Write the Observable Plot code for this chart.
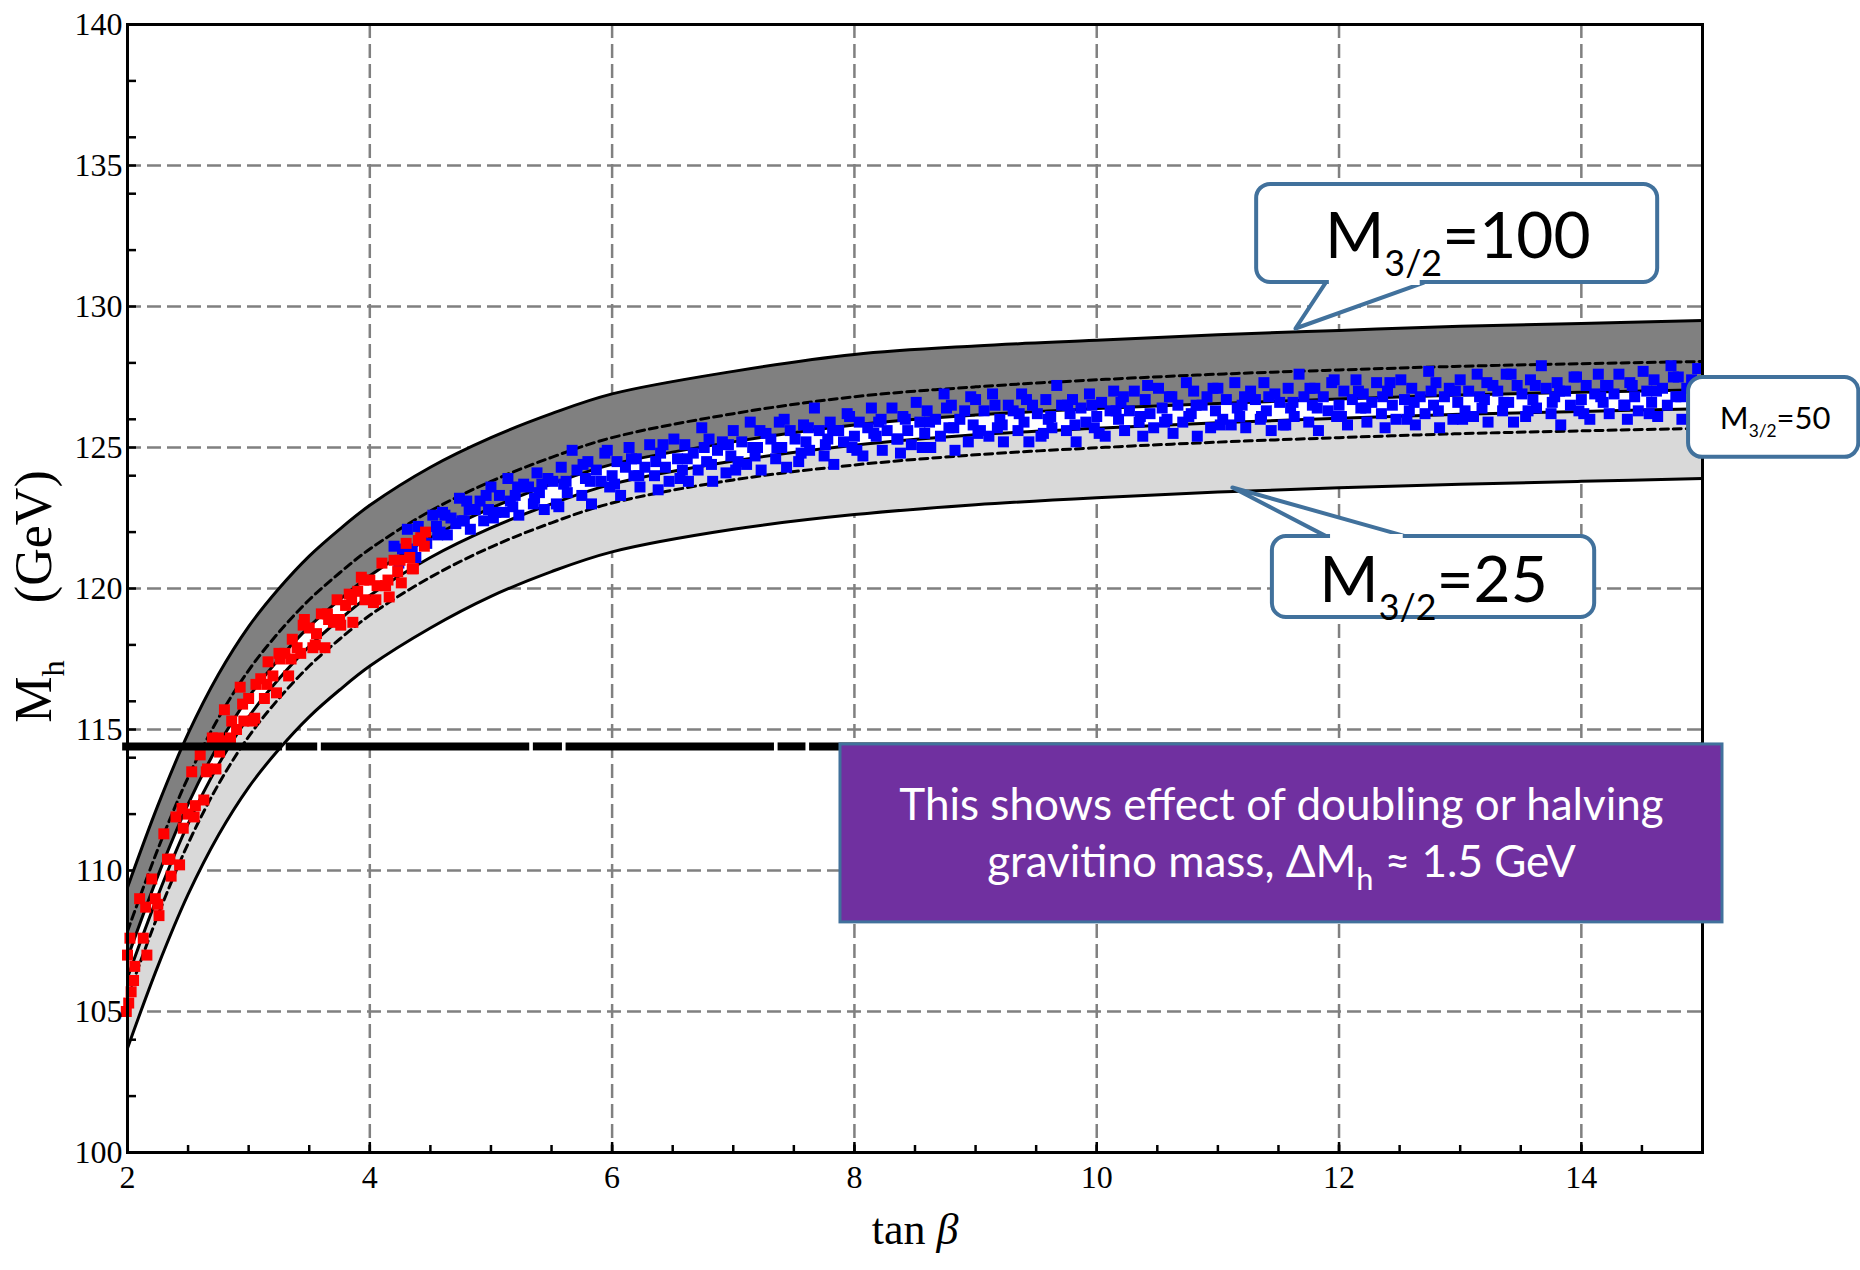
<!DOCTYPE html>
<html><head><meta charset="utf-8">
<script src="https://cdn.jsdelivr.net/npm/d3@7"></script>
<script src="https://cdn.jsdelivr.net/npm/@observablehq/plot@0.6"></script>
<style>html,body{margin:0;padding:0;background:#fff;} #chart svg{display:block}</style>
</head><body><div id="chart"></div>
<script>
// ---- data ----
const tanBeta   = [2, 2.25, 2.5, 2.75, 3, 3.25, 3.5, 3.75, 4, 4.5, 5, 5.5, 6, 7, 8, 9, 10, 11, 12, 13, 14, 15];
const mUpper100 = [109.4, 112.3, 114.85, 116.95, 118.65, 120.0, 121.15, 122.1, 122.95, 124.3, 125.35, 126.2, 126.9, 127.7, 128.3, 128.6, 128.8, 129.0, 129.15, 129.3, 129.4, 129.5];
const mLower100 = [107.85, 110.75, 113.3, 115.4, 117.1, 118.45, 119.6, 120.55, 121.4, 122.75, 123.8, 124.65, 125.35, 126.2, 126.8, 127.15, 127.4, 127.6, 127.75, 127.88, 127.97, 128.05];
const mUpper50  = [106.9, 109.8, 112.35, 114.45, 116.15, 117.5, 118.65, 119.6, 120.45, 121.8, 122.85, 123.7, 124.4, 125.2, 125.8, 126.15, 126.38, 126.56, 126.72, 126.86, 126.96, 127.05];
const mLower50  = [106.2, 109.1, 111.65, 113.75, 115.45, 116.8, 117.95, 118.9, 119.75, 121.1, 122.15, 123.0, 123.7, 124.52, 125.08, 125.45, 125.68, 125.88, 126.04, 126.18, 126.28, 126.37];
const mUpper25  = [105.5, 108.4, 110.95, 113.05, 114.75, 116.1, 117.25, 118.2, 119.05, 120.4, 121.47, 122.33, 123.03, 123.85, 124.38, 124.74, 124.99, 125.19, 125.35, 125.49, 125.59, 125.68];
const mLower25  = [103.7, 106.6, 109.15, 111.25, 112.95, 114.3, 115.45, 116.4, 117.25, 118.6, 119.72, 120.6, 121.3, 122.1, 122.62, 122.97, 123.22, 123.42, 123.57, 123.7, 123.8, 123.9];

const redPoints = [[2.00,107.0],[2.01,105.3],[2.02,107.6],[2.03,105.7],[2.06,106.6],[1.99,105.0],[2.05,106.1],
[2.10,109.0],[2.13,107.6],[2.16,107.0],[2.15,108.7],[2.20,109.7],[2.23,109.0],[2.26,108.4],[2.25,108.8],
[2.30,111.3],[2.33,110.4],[2.36,109.8],[2.35,110.4],[2.40,111.9],[2.43,110.2],[2.46,111.5],[2.45,112.2],
[2.50,112.0],[2.53,113.5],[2.56,112.3],[2.55,111.9],[2.60,114.1],[2.63,112.5],[2.66,113.6],[2.65,113.5],
[2.70,114.7],[2.73,113.6],[2.76,114.2],[2.75,114.7],[2.80,115.7],[2.83,114.6],[2.86,115.3],[2.85,114.7],
[2.90,115.0],[2.93,116.5],[2.96,115.3],[2.95,115.9],[3.00,116.1],[3.03,115.3],[3.06,116.6],[3.05,115.4],
[3.10,116.8],[3.13,116.1],[3.16,117.4],[3.15,116.6],[3.20,116.9],[3.23,116.3],[3.26,117.5],[3.25,117.7],
[3.30,117.7],[3.33,116.9],[3.36,118.2],[3.35,117.5],[3.40,117.9],[3.43,117.7],[3.46,118.9],[3.45,118.7],
[3.50,118.6],[3.53,117.9],[3.56,118.4],[3.55,118.0],[3.60,119.1],[3.63,117.9],[3.66,118.9],[3.65,119.1],
[3.70,118.8],[3.73,119.6],[3.76,118.7],[3.75,118.9],[3.80,119.4],[3.83,119.8],[3.86,118.8],[3.85,119.6],
[3.90,119.9],[3.93,120.4],[3.96,119.6],[3.95,120.3],[4.00,120.3],[4.03,119.5],[4.06,120.1],[4.05,119.6],
[4.10,120.9],[4.13,120.1],[4.16,119.7],[4.15,120.3],[4.20,121.0],[4.23,120.6],[4.26,120.2],[4.25,121.0],
[4.30,121.6],[4.33,121.1],[4.36,120.7],[4.35,120.7],[4.40,121.7],[4.42,121.8],[4.46,122.0],[4.45,121.5]];

const bluePoints = [[4.20,121.5],[4.24,120.9],[4.27,121.4],[4.31,122.1],[4.35,121.4],[4.38,121.1],
[4.40,122.2],[4.43,121.9],[4.47,121.6],[4.52,122.6],[4.55,122.2],[4.58,122.0],
[4.60,122.7],[4.64,121.9],[4.67,122.5],[4.71,122.3],[4.74,123.2],[4.78,122.4],
[4.80,123.1],[4.83,122.1],[4.87,122.8],[4.91,123.1],[4.94,122.4],[4.98,122.8],
[5.00,123.6],[5.04,122.7],[5.07,123.3],[5.11,122.7],[5.14,123.9],[5.18,122.9],
[5.20,123.3],[5.23,122.6],[5.27,123.7],[5.31,123.6],[5.35,123.0],[5.38,124.1],
[5.40,123.4],[5.44,122.8],[5.47,123.9],[5.51,123.8],[5.54,123.0],[5.58,124.3],
[5.60,123.7],[5.63,123.4],[5.67,124.9],[5.71,124.2],[5.75,123.3],[5.78,123.9],
[5.80,124.5],[5.83,123.0],[5.87,124.2],[5.91,123.8],[5.94,124.8],[5.98,123.6],
[6.00,124.0],[6.04,124.5],[6.07,123.3],[6.11,124.3],[6.14,125.0],[6.18,124.0],
[6.20,124.6],[6.23,123.6],[6.27,124.3],[6.31,125.1],[6.35,124.0],[6.38,123.5],
[6.40,124.8],[6.44,124.3],[6.47,123.8],[6.51,125.3],[6.54,124.6],[6.58,124.2],
[6.60,125.1],[6.63,123.8],[6.67,124.8],[6.71,124.2],[6.74,125.7],[6.78,124.5],
[6.80,125.3],[6.83,123.8],[6.87,124.9],[6.91,125.2],[6.94,124.1],[6.98,124.7],
[7.00,125.6],[7.04,124.5],[7.07,125.2],[7.11,124.4],[7.14,125.9],[7.18,124.7],
[7.20,125.0],[7.23,124.2],[7.27,125.5],[7.31,125.3],[7.35,124.6],[7.38,125.9],
[7.40,125.0],[7.44,124.3],[7.47,125.6],[7.51,125.3],[7.54,124.5],[7.58,125.8],
[7.60,125.2],[7.63,124.9],[7.67,126.4],[7.71,125.6],[7.75,124.7],[7.78,125.3],
[7.80,125.9],[7.83,124.4],[7.87,125.6],[7.91,125.2],[7.94,126.2],[7.98,125.0],
[8.00,125.4],[8.04,125.9],[8.07,124.7],[8.11,125.7],[8.14,126.4],[8.18,125.4],
[8.20,125.9],[8.23,124.9],[8.27,125.6],[8.31,126.4],[8.35,125.3],[8.38,124.8],
[8.40,126.1],[8.44,125.6],[8.47,125.1],[8.51,126.6],[8.54,125.9],[8.58,125.5],
[8.60,126.3],[8.63,125.0],[8.67,126.0],[8.71,125.4],[8.74,126.9],[8.78,125.7],
[8.80,126.5],[8.83,124.9],[8.87,126.0],[8.91,126.3],[8.94,125.2],[8.98,125.8],
[9.00,126.7],[9.04,125.6],[9.07,126.3],[9.11,125.4],[9.14,126.9],[9.18,125.7],
[9.20,126.0],[9.23,125.2],[9.27,126.5],[9.31,126.3],[9.35,125.6],[9.38,126.9],
[9.40,125.9],[9.44,125.2],[9.47,126.5],[9.51,126.2],[9.54,125.4],[9.58,126.7],
[9.60,126.0],[9.63,125.7],[9.67,127.2],[9.71,126.5],[9.75,125.6],[9.78,126.2],
[9.80,126.7],[9.83,125.2],[9.87,126.4],[9.91,125.9],[9.94,126.9],[9.98,125.7],
[10.00,126.1],[10.04,126.6],[10.07,125.4],[10.11,126.3],[10.14,127.0],[10.18,126.0],
[10.20,126.6],[10.23,125.6],[10.27,126.3],[10.31,127.0],[10.35,125.9],[10.38,125.4],
[10.40,126.7],[10.44,126.2],[10.47,125.7],[10.51,127.1],[10.54,126.4],[10.58,126.0],
[10.60,126.8],[10.63,125.5],[10.67,126.5],[10.71,125.9],[10.74,127.3],[10.78,126.2],
[10.80,127.0],[10.83,125.4],[10.87,126.5],[10.91,126.8],[10.94,125.7],[10.98,126.3],
[11.00,127.1],[11.04,126.0],[11.07,126.7],[11.11,125.8],[11.14,127.3],[11.18,126.1],
[11.20,126.5],[11.23,125.7],[11.27,127.0],[11.31,126.7],[11.35,126.0],[11.38,127.3],
[11.40,126.3],[11.44,125.6],[11.47,126.9],[11.51,126.6],[11.54,125.8],[11.58,127.1],
[11.60,126.4],[11.63,126.1],[11.67,127.6],[11.71,126.8],[11.75,125.9],[11.78,126.5],
[11.80,127.1],[11.83,125.6],[11.87,126.8],[11.91,126.3],[11.94,127.3],[11.98,126.1],
[12.00,126.5],[12.04,127.0],[12.07,125.8],[12.11,126.7],[12.14,127.4],[12.18,126.4],
[12.20,126.9],[12.23,125.9],[12.27,126.6],[12.31,127.3],[12.35,126.2],[12.38,125.7],
[12.40,127.0],[12.44,126.5],[12.47,126.0],[12.51,127.4],[12.54,126.7],[12.58,126.3],
[12.60,127.1],[12.63,125.8],[12.67,126.8],[12.71,126.2],[12.74,127.7],[12.78,126.5],
[12.80,127.3],[12.83,125.7],[12.87,126.8],[12.91,127.1],[12.94,126.0],[12.98,126.6],
[13.00,127.4],[13.04,126.3],[13.07,127.0],[13.11,126.1],[13.14,127.6],[13.18,126.4],
[13.20,126.7],[13.23,125.9],[13.27,127.2],[13.31,127.0],[13.35,126.3],[13.38,127.6],
[13.40,126.6],[13.44,125.9],[13.47,127.2],[13.51,126.9],[13.54,126.1],[13.58,127.4],
[13.60,126.7],[13.63,126.4],[13.67,127.9],[13.71,127.1],[13.75,126.2],[13.78,126.8],
[13.80,127.3],[13.83,125.8],[13.87,127.0],[13.91,126.5],[13.94,127.5],[13.98,126.3],
[14.00,126.7],[14.04,127.2],[14.07,126.0],[14.11,126.9],[14.14,127.6],[14.18,126.6],
[14.20,127.2],[14.23,126.2],[14.27,126.9],[14.31,127.6],[14.35,126.5],[14.38,126.0],
[14.40,127.3],[14.44,126.8],[14.47,126.3],[14.51,127.7],[14.54,127.0],[14.58,126.6],
[14.60,127.4],[14.63,126.1],[14.67,127.1],[14.71,126.5],[14.74,127.9],[14.78,126.8],
[14.80,127.5],[14.83,126.0],[14.87,127.1],[14.91,127.4],[14.94,126.3],[14.97,126.9],
[4.56,121.9],[4.62,122.6],[4.76,122.4],[4.82,122.8],[4.96,123.3],[5.02,122.5],[5.16,123.1],[5.22,123.6],
[5.36,123.2],[5.42,123.7],[5.56,122.9],[5.62,123.8],[5.76,124.4],[5.82,123.8],[5.96,124.9],[6.02,123.7],
[6.16,124.6],[6.22,124.0],[6.36,124.5],[6.42,125.1],[6.56,123.9],[6.62,124.6],[6.76,125.0],[6.82,124.4],
[6.96,125.1],[7.02,124.2],[7.16,125.0],[7.22,125.6],[7.36,125.0],[7.42,126.0],[7.56,124.8],[7.62,125.7],
[7.76,125.1],[7.82,125.6],[7.96,126.1],[8.02,124.9],[8.16,125.5],[8.22,126.0],[8.36,125.3],[8.42,126.0],
[8.56,125.0],[8.62,125.9],[8.76,126.4],[8.82,125.7],[8.96,126.8],[9.02,125.5],[9.16,126.5],[9.22,125.8],
[9.36,126.2],[9.42,126.7],[9.56,125.5],[9.62,126.1],[9.76,126.5],[9.82,125.8],[9.96,126.5],[10.02,125.5],
[10.16,126.3],[10.22,126.8],[10.36,126.1],[10.42,127.2],[10.56,125.9],[10.62,126.8],[10.76,126.1],[10.82,126.5],
[10.96,127.1],[11.02,125.8],[11.16,126.4],[11.22,126.8],[11.36,126.1],[11.42,126.8],[11.56,125.8],[11.62,126.6],
[11.76,127.1],[11.82,126.4],[11.96,127.4],[12.02,126.1],[12.16,127.0],[12.22,126.4],[12.36,126.8],[12.42,127.3],
[12.56,126.0],[12.62,126.6],[12.76,127.0],[12.82,126.3],[12.96,127.0],[13.02,126.0],[13.16,126.8],[13.22,127.3],
[13.36,126.6],[13.42,127.6],[13.56,126.3],[13.62,127.2],[13.76,126.6],[13.82,127.0],[13.96,127.5],[14.02,126.2],
[14.16,126.8],[14.22,127.2],[14.36,126.5],[14.42,127.2],[14.56,126.2],[14.62,127.0],[14.76,127.5],[14.82,126.8],
[14.96,127.8]];

const lepLimit = 114.4;
const lepSegments = [[1.96, 3.28], [3.31, 3.57], [3.60, 5.32], [5.35, 5.59], [5.62, 7.34], [7.37, 7.60], [7.63, 15]];

const xMajorTicks = [2, 4, 6, 8, 10, 12, 14];
const xMinorTicks = [2, 2.5, 3, 3.5, 4, 4.5, 5, 5.5, 6, 6.5, 7, 7.5, 8, 8.5, 9, 9.5, 10, 10.5, 11, 11.5, 12, 12.5, 13, 13.5, 14, 14.5, 15];
const yMajorTicks = [100, 105, 110, 115, 120, 125, 130, 135, 140];
const yMinorTicks = [102, 104, 105, 106, 108, 110, 112, 114, 115, 116, 118, 120, 122, 124, 125, 126, 128, 130, 132, 134, 135, 136, 138];
const xGrid = [4, 6, 8, 10, 12, 14];
const yGrid = [105, 110, 115, 120, 125, 130, 135];

const xTitle = "tan β";
const yTitle = "Mh (GeV)";
const calloutLabels = ["M3/2=100", "M3/2=50", "M3/2=25"];
const noteLines = ["This shows effect of doubling or halving", "gravitino mass, ΔMh ≈ 1.5 GeV"];

// ---- annotation geometry (in data units) ----
const calloutBoxes = [
  {x1: 11.32, x2: 14.63, y1: 130.85, y2: 134.33},
  {x1: 14.885, x2: 16.29, y1: 124.65, y2: 127.48},
  {x1: 11.45, x2: 14.11, y1: 118.97, y2: 121.84}
];
const bigLabels = [{x: 12.98, y: 132.43, label: calloutLabels[0]}, {x: 12.78, y: 120.23, label: calloutLabels[2]}];
const smallLabels = [{x: 15.60, y: 126.01, label: calloutLabels[1]}];
const tails = [
  {id: 0, t: 11.89, m: 130.85}, {id: 0, t: 11.64, m: 129.22}, {id: 0, t: 12.70, m: 130.85},
  {id: 2, t: 11.90, m: 121.84}, {id: 2, t: 11.12, m: 123.58}, {id: 2, t: 12.56, m: 121.84}
];
const tailCovers = [
  {x1: 11.92, x2: 12.67, y: 130.85},
  {x1: 11.93, x2: 12.53, y: 121.84}
];
const noteBox = {x1: 7.885, x2: 15.165, y1: 108.16, y2: 114.47};
const notePos = [{x: 11.525, y: 112.30}, {x: 11.525, y: 110.28}];

// ---- build ----
const bands = tanBeta.map((t, i) => ({
  t, a: mUpper100[i], b: mLower100[i], c: mUpper50[i], d: mLower50[i], e: mUpper25[i], f: mLower25[i]
}));
const curve = "catmull-rom";
const solid = {x: "t", stroke: "black", strokeWidth: 3, curve};
const dashed = {x: "t", stroke: "black", strokeWidth: 3, strokeDasharray: "8,5", curve};
const gridStyle = {stroke: "#808080", strokeOpacity: 1, strokeWidth: 2.5, strokeDasharray: "14,6"};
const boxBlue = "#41719C";
const sans = "Lato, 'Open Sans', sans-serif";
const serif = "'Liberation Serif', 'Times New Roman', serif";
const noLabel = () => "";

const chart = Plot.plot({
  width: 1860, height: 1270,
  marginLeft: 127, marginRight: 158, marginTop: 24, marginBottom: 118,
  x: {domain: [2, 15]},
  y: {domain: [100, 140]},
  style: {fontFamily: serif, fontSize: "32px", background: "white", overflow: "visible", color: "black"},
  marks: [
    Plot.gridX(xGrid, gridStyle),
    Plot.gridY(yGrid, gridStyle),
    Plot.axisX(xMinorTicks, {tickSize: -7, strokeWidth: 2.5, tickFormat: noLabel, label: null}),
    Plot.axisX(xMajorTicks, {tickSize: -10, strokeWidth: 2.5, tickFormat: noLabel, label: null}),
    Plot.axisY(yMinorTicks, {tickSize: -9, strokeWidth: 2.5, tickFormat: noLabel, label: null}),
    Plot.areaY(bands, {x: "t", y1: "a", y2: "c", fill: "#808080", curve}),
    Plot.areaY(bands, {x: "t", y1: "c", y2: "d", fill: "white", curve}),
    Plot.areaY(bands, {x: "t", y1: "d", y2: "f", fill: "#d9d9d9", curve}),
    Plot.line(bands, {...solid, y: "a"}),
    Plot.line(bands, {...dashed, y: "b"}),
    Plot.line(bands, {...solid, y: "c"}),
    Plot.line(bands, {...solid, y: "d"}),
    Plot.line(bands, {...dashed, y: "e"}),
    Plot.line(bands, {...solid, y: "f"}),
    Plot.dot(bluePoints, {x: d => d[0], y: d => d[1], symbol: "square", r: 6.2, fill: "#0000ff"}),
    Plot.dot(redPoints, {x: d => d[0], y: d => d[1], symbol: "square", r: 6.2, fill: "#ff0000"}),
    Plot.ruleY(lepSegments, {y: () => lepLimit, x1: d => d[0], x2: d => d[1], stroke: "black", strokeWidth: 8}),
    Plot.frame({stroke: "black", strokeWidth: 3}),
    Plot.axisX(xMajorTicks, {tickSize: 0, tickPadding: 13, fontSize: 32, fontFamily: serif, tickFormat: d => String(d), label: null}),
    Plot.axisY(yMajorTicks, {tickSize: 0, tickPadding: 5, fontSize: 32, fontFamily: serif, tickFormat: d => String(d), label: null}),
    Plot.text([xTitle], {text: d => d, frameAnchor: "bottom", dy: 91, fontSize: 44, fontFamily: serif, textAnchor: "middle"}),
    Plot.text([yTitle], {text: d => d, frameAnchor: "left", dx: -93, dy: 8, rotate: -90, fontSize: 52, fontFamily: serif, textAnchor: "middle"}),
    // callouts
    Plot.line(tails, {x: "t", y: "m", z: "id", fill: "white", stroke: boxBlue, strokeWidth: 4, strokeLinejoin: "round"}),
    Plot.rect(calloutBoxes, {x1: "x1", x2: "x2", y1: "y1", y2: "y2", fill: "white", stroke: boxBlue, strokeWidth: 4, rx: 14, ry: 14}),
    Plot.ruleY(tailCovers, {y: "y", x1: "x1", x2: "x2", stroke: "white", strokeWidth: 5}),
    Plot.text(bigLabels, {x: "x", y: "y", text: "label", fontSize: 64, fontFamily: sans, fill: "black"}),
    Plot.text(smallLabels, {x: "x", y: "y", text: "label", fontSize: 31, fontFamily: sans, fill: "black"}),
    // note box
    Plot.rect([noteBox], {x1: "x1", x2: "x2", y1: "y1", y2: "y2", fill: "#7030A0", stroke: boxBlue, strokeWidth: 3}),
    Plot.text(notePos, {x: "x", y: "y", text: (d, i) => noteLines[i], fontSize: 44, fontFamily: sans, fill: "white"})
  ]
});
document.getElementById("chart").appendChild(chart);

// rich text: subscripts / italics
const richText = {
  "M3/2=100": [["M"], ["3/2", "sub", 0.56, 0.27], ["=100"]],
  "M3/2=50": [["M"], ["3/2", "sub", 0.56, 0.27], ["=50"]],
  "M3/2=25": [["M"], ["3/2", "sub", 0.56, 0.27], ["=25"]],
  "gravitino mass, ΔMh ≈ 1.5 GeV": [["gravitino mass, ΔM"], ["h", "sub", 0.7, 0.3], [" ≈ 1.5 GeV"]],
  "Mh (GeV)": [["M"], ["h", "sub", 0.62, 0.25], ["(GeV)", "gap"]],
  "tan β": [["tan "], ["β", "ital"]]
};
const NS = "http://www.w3.org/2000/svg";
for (const el of chart.querySelectorAll("text")) {
  const parts = richText[el.textContent];
  if (!parts) continue;
  const holder = el.closest("[font-size]");
  const fs = holder ? parseFloat(holder.getAttribute("font-size")) : 32;
  el.textContent = "";
  let shift = 0;
  for (const [s, kind, scale, down] of parts) {
    const ts = document.createElementNS(NS, "tspan");
    ts.textContent = s;
    if (kind === "sub") {
      ts.setAttribute("font-size", fs * scale);
      ts.setAttribute("dy", fs * down);
      shift = fs * down;
    } else if (shift) {
      ts.setAttribute("dy", -shift);
      shift = 0;
    }
    if (kind === "ital") ts.setAttribute("font-style", "italic");
    if (kind === "gap") ts.setAttribute("dx", fs * 1.1);
    el.appendChild(ts);
  }
}
</script>
</body></html>
